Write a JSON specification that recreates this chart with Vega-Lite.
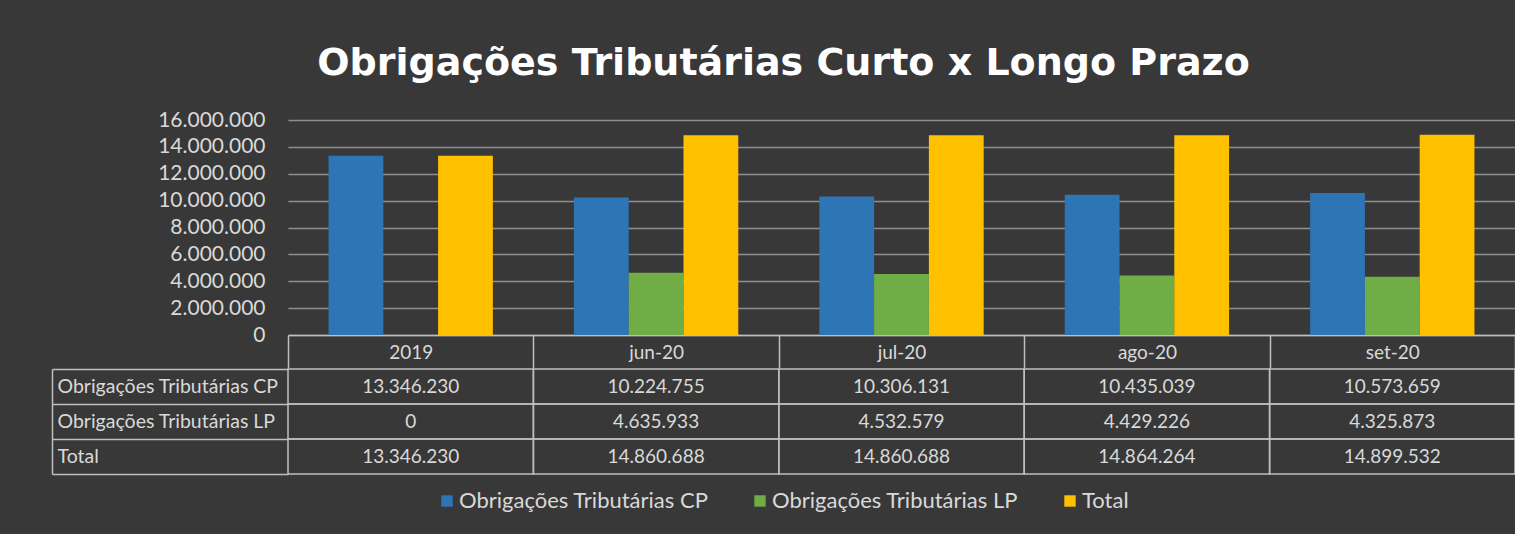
{
  "$schema": "https://vega.github.io/schema/vega-lite/v6.json",
  "background": "#383838",
  "padding": {"left": 51, "top": 45, "right": 0, "bottom": 22},
  "title": {
    "text": "Obrigações Tributárias Curto x Longo Prazo",
    "font": "DejaVu Sans",
    "fontSize": 38,
    "fontWeight": "bold",
    "color": "#ffffff",
    "anchor": "middle",
    "offset": 26
  },
  "config": {
    "locale": {"number": {"decimal": ",", "thousands": ".", "grouping": [3], "currency": ["R$", ""]}},
    "view": {"stroke": null},
    "font": "Lato",
    "axis": {"labelFont": "Lato", "titleFont": "Lato"},
    "legend": {"labelFont": "Lato"}
  },
  "data": {
    "values": [
      {"cat": "2019", "serie": "Obrigações Tributárias CP", "value": 13346230},
      {"cat": "2019", "serie": "Obrigações Tributárias LP", "value": 0},
      {"cat": "2019", "serie": "Total", "value": 13346230},
      {"cat": "jun-20", "serie": "Obrigações Tributárias CP", "value": 10224755},
      {"cat": "jun-20", "serie": "Obrigações Tributárias LP", "value": 4635933},
      {"cat": "jun-20", "serie": "Total", "value": 14860688},
      {"cat": "jul-20", "serie": "Obrigações Tributárias CP", "value": 10306131},
      {"cat": "jul-20", "serie": "Obrigações Tributárias LP", "value": 4532579},
      {"cat": "jul-20", "serie": "Total", "value": 14860688},
      {"cat": "ago-20", "serie": "Obrigações Tributárias CP", "value": 10435039},
      {"cat": "ago-20", "serie": "Obrigações Tributárias LP", "value": 4429226},
      {"cat": "ago-20", "serie": "Total", "value": 14864264},
      {"cat": "set-20", "serie": "Obrigações Tributárias CP", "value": 10573659},
      {"cat": "set-20", "serie": "Obrigações Tributárias LP", "value": 4325873},
      {"cat": "set-20", "serie": "Total", "value": 14899532}
    ]
  },
  "spacing": -10,
  "vconcat": [
    {
      "width": 1227,
      "height": 215,
      "mark": {"type": "bar"},
      "encoding": {
        "x": {
          "field": "cat",
          "type": "nominal",
          "sort": ["2019", "jun-20", "jul-20", "ago-20", "set-20"],
          "scale": {"paddingInner": 0, "paddingOuter": 0},
          "axis": {
            "title": null,
            "labelAngle": 0,
            "labelColor": "#d9d9d9",
            "labelFontSize": 19,
            "labelBaseline": "middle",
            "labelPadding": -16,
            "domain": true,
            "domainColor": "#bfbfbf",
            "domainWidth": 1.5,
            "ticks": true,
            "tickBand": "extent",
            "tickSize": 33,
            "tickColor": "#bfbfbf",
            "tickWidth": 1.5
          }
        },
        "xOffset": {
          "field": "serie",
          "type": "nominal",
          "sort": ["Obrigações Tributárias CP", "Obrigações Tributárias LP", "Total"],
          "scale": {"paddingInner": 0, "paddingOuter": 0.74}
        },
        "y": {
          "field": "value",
          "type": "quantitative",
          "scale": {"domain": [0, 16000000], "nice": false},
          "axis": {
            "title": null,
            "values": [0, 2000000, 4000000, 6000000, 8000000, 10000000, 12000000, 14000000, 16000000],
            "format": ",d",
            "labelColor": "#d9d9d9",
            "labelFontSize": 21,
            "labelPadding": 23,
            "ticks": false,
            "domain": false,
            "grid": true,
            "gridColor": "#8f8f8f",
            "gridWidth": 1.5
          }
        },
        "color": {
          "field": "serie",
          "type": "nominal",
          "scale": {
            "domain": ["Obrigações Tributárias CP", "Obrigações Tributárias LP", "Total"],
            "range": ["#2E75B6", "#70AD47", "#FFC000"]
          },
          "legend": {
            "orient": "none",
            "legendX": 148,
            "legendY": 370,
            "direction": "horizontal",
            "title": null,
            "labelColor": "#d9d9d9",
            "labelFontSize": 22,
            "labelLimit": 400,
            "symbolType": "square",
            "symbolSize": 130,
            "symbolStrokeWidth": 0,
            "labelOffset": 1,
            "columnPadding": 40
          }
        }
      }
    },
    {
      "width": 1227,
      "height": 105,
      "encoding": {
        "x": {
          "field": "cat",
          "type": "nominal",
          "sort": ["2019", "jun-20", "jul-20", "ago-20", "set-20"],
          "scale": {"paddingInner": 0, "paddingOuter": 0},
          "axis": null
        },
        "y": {
          "field": "serie",
          "type": "nominal",
          "sort": ["Obrigações Tributárias CP", "Obrigações Tributárias LP", "Total"],
          "scale": {"paddingInner": 0, "paddingOuter": 0},
          "axis": {
            "title": null,
            "offset": 236,
            "domain": true,
            "domainColor": "#bfbfbf",
            "domainWidth": 1.5,
            "ticks": true,
            "tickBand": "extent",
            "tickSize": -236,
            "tickColor": "#bfbfbf",
            "tickWidth": 1.5,
            "labelAlign": "left",
            "labelPadding": 231,
            "labelColor": "#d9d9d9",
            "labelFontSize": 19.5,
            "labelLimit": 300,
            "grid": false
          }
        }
      },
      "layer": [
        {
          "mark": {"type": "rect", "fill": "transparent", "stroke": "#bfbfbf", "strokeWidth": 1.5}
        },
        {
          "mark": {"type": "text", "color": "#d9d9d9", "fontSize": 19, "font": "Lato"},
          "encoding": {
            "text": {"field": "value", "type": "quantitative", "format": ",d"}
          }
        }
      ]
    }
  ]
}
